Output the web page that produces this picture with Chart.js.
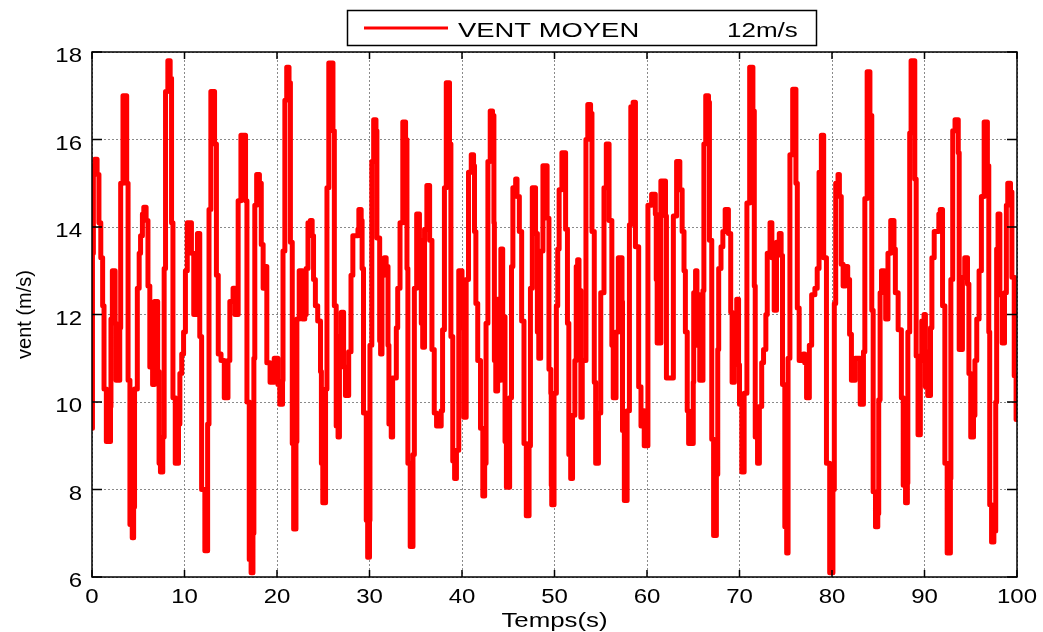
<!DOCTYPE html>
<html>
<head>
<meta charset="utf-8">
<title>Vent moyen 12m/s</title>
<script src="https://cdn.jsdelivr.net/npm/chart.js@4.4.1/dist/chart.umd.min.js"></script>
<style>
  html, body { margin: 0; padding: 0; background: #fff; }
  #wrap { width: 1043px; height: 632px; }
</style>
</head>
<body>
<div id="wrap"><canvas id="myChart" width="1043" height="632"></canvas></div>
<script>
// time (s) at which each step starts
const times = [
    0, 0.05, 0.15, 0.3, 0.55, 0.75, 0.95, 1.15, 1.3, 1.55,
    2.0, 2.05, 2.2, 2.5, 2.6, 3.0, 3.1, 3.35, 3.75, 3.9,
    4.1, 4.35, 4.5, 4.6, 4.9, 5.1, 5.25, 5.45, 5.6, 5.85,
    6.05, 6.25, 6.4, 6.55, 6.75, 7.1, 7.25, 7.4, 7.65, 7.8,
    7.95, 8.2, 8.45, 8.6, 8.75, 9.0, 9.35, 9.5, 9.7, 9.9,
    10.1, 10.3, 10.75, 11.0, 11.4, 11.65, 11.85, 12.2, 12.5, 12.65,
    12.85, 13.25, 13.45, 13.65, 13.95, 14.3, 14.7, 14.9, 15.25, 15.45,
    15.8, 16.1, 16.6, 16.75, 17.0, 17.2, 17.4, 17.5, 17.6, 17.8,
    18.1, 18.3, 18.5, 18.7, 18.9, 19.25, 19.7, 20.1, 20.3, 20.6,
    20.65, 20.85, 21.05, 21.3, 21.45, 21.65, 21.8, 22.05, 22.15, 22.4,
    22.75, 23.0, 23.15, 23.35, 23.6, 23.8, 23.95, 24.15, 24.4, 24.7,
    24.8, 24.95, 25.25, 25.4, 25.6, 26.05, 26.2, 26.4, 26.6, 26.75,
    26.95, 27.2, 27.4, 27.75, 28.0, 28.2, 28.75, 28.85, 29.1, 29.2,
    29.35, 29.65, 29.8, 30.0, 30.05, 30.25, 30.45, 30.7, 30.8, 31.1,
    31.2, 31.35, 31.6, 31.8, 32.0, 32.1, 32.35, 32.5, 32.9, 33.05,
    33.3, 33.6, 33.9, 34.05, 34.15, 34.4, 34.7, 34.85, 35.1, 35.4,
    35.6, 35.75, 35.95, 36.2, 36.5, 36.75, 37.0, 37.25, 37.75, 37.9,
    38.1, 38.3, 38.65, 38.8, 39.0, 39.2, 39.4, 39.65, 40.0, 40.2,
    40.45, 40.7, 41.0, 41.25, 41.35, 41.5, 41.7, 42.0, 42.25, 42.45,
    42.6, 42.8, 43.05, 43.3, 43.45, 43.5, 43.65, 43.85, 44.05, 44.2,
    44.4, 44.65, 44.8, 45.15, 45.35, 45.5, 45.8, 45.95, 46.2, 46.45,
    46.7, 46.95, 47.25, 47.4, 47.6, 47.95, 48.15, 48.3, 48.5, 48.75,
    49.2, 49.4, 49.6, 49.65, 49.7, 49.95, 50.2, 50.35, 50.5, 50.8,
    51.2, 51.4, 51.55, 51.75, 51.95, 52.2, 52.35, 52.5, 52.65, 52.85,
    53.0, 53.4, 53.6, 53.9, 54.05, 54.3, 54.45, 54.75, 55.0, 55.35,
    55.6, 55.9, 56.2, 56.35, 56.65, 56.9, 57.3, 57.35, 57.55, 57.85,
    58.1, 58.25, 58.5, 58.75, 59.1, 59.35, 59.55, 59.7, 60.1, 60.5,
    60.9, 61.0, 61.1, 61.5, 62.0, 62.1, 62.85, 63.2, 63.55, 63.8,
    64.0, 64.15, 64.35, 64.5, 65.0, 65.05, 65.25, 65.4, 65.5, 65.7,
    66.05, 66.15, 66.35, 66.65, 66.75, 67.0, 67.2, 67.5, 67.65, 67.75,
    68.0, 68.2, 68.45, 68.8, 69.05, 69.2, 69.45, 69.7, 69.9, 70.0,
    70.25, 70.5, 70.8, 71.1, 71.45, 71.6, 71.7, 71.95, 72.15, 72.4,
    72.6, 72.85, 73.0, 73.3, 73.5, 73.75, 74.0, 74.3, 74.5, 74.65,
    74.9, 75.1, 75.25, 75.45, 75.75, 76.1, 76.25, 76.45, 76.9, 77.05,
    77.25, 77.55, 77.8, 78.15, 78.4, 78.6, 78.85, 79.1, 79.4, 79.75,
    80.1, 80.25, 80.4, 80.65, 80.8, 81.0, 81.2, 81.45, 81.7, 81.9,
    82.1, 82.5, 83.05, 83.4, 83.55, 83.8, 84.1, 84.3, 84.45, 84.7,
    84.95, 85.05, 85.2, 85.35, 85.65, 85.8, 86.05, 86.35, 86.7, 86.85,
    87.15, 87.5, 87.7, 87.95, 88.15, 88.2, 88.4, 88.55, 88.95, 89.1,
    89.3, 89.55, 89.7, 89.95, 90.1, 90.2, 90.35, 90.65, 90.8, 91.05,
    91.55, 91.7, 91.95, 92.2, 92.45, 92.8, 92.85, 93.05, 93.3, 93.65,
    93.75, 94.1, 94.35, 94.65, 94.8, 95.0, 95.3, 95.45, 95.65, 95.9,
    96.15, 96.45, 96.8, 96.95, 97.05, 97.25, 97.5, 97.7, 97.8, 97.95,
    98.15, 98.4, 98.65, 98.85, 99.0, 99.3, 99.45, 99.7, 99.9, 100
];

// wind speed (m/s) held from each time above
const wind = [
    9.4, 13.4, 15.4, 15.55, 15.2, 14.1, 13.3, 12.2, 10.3, 9.1,
    9.9, 11.9, 13.0, 11.8, 10.5, 11.7, 15.0, 17.0, 15.0, 10.5,
    7.2, 6.9, 7.6, 10.3, 12.6, 13.4, 13.8, 14.3, 14.45, 14.15,
    12.65, 10.8, 11.8, 10.4, 12.3, 10.7, 8.6, 8.4, 9.2, 13.05,
    17.1, 17.8, 17.4, 14.1, 10.1, 8.6, 9.5, 10.65, 11.1, 11.6,
    13.0, 14.1, 13.4, 12.0, 13.85, 11.5, 8.0, 6.6, 9.5, 14.4,
    17.1, 15.9, 12.9, 11.1, 10.95, 10.1, 10.95, 12.3, 12.6, 12.0,
    14.6, 16.1, 14.6, 10.0, 6.4, 6.1, 7.0, 11.0, 14.5, 15.2,
    15.0, 13.6, 12.6, 13.1, 10.9, 10.45, 11.0, 10.4, 9.95, 10.5,
    13.45, 16.9, 17.65, 17.3, 13.65, 9.05, 7.1, 9.1, 11.9, 13.0,
    11.9, 12.0, 13.05, 14.1, 14.15, 13.8, 12.8, 12.2, 11.85, 10.7,
    8.6, 7.7, 10.3, 14.9, 17.75, 16.2, 12.2, 9.45, 9.2, 11.5,
    12.05, 10.8, 10.15, 11.15, 12.9, 13.8, 13.95, 14.4, 14.15, 13.05,
    9.75, 7.3, 6.45, 7.3, 11.3, 15.5, 16.45, 16.2, 13.75, 11.4,
    11.1, 12.9, 13.3, 13.1, 11.3, 9.5, 9.2, 10.55, 11.7, 12.6,
    14.1, 16.4, 16.0, 13.05, 8.6, 6.7, 8.8, 12.6, 14.3, 13.7,
    11.8, 11.25, 13.95, 14.95, 13.7, 11.2, 9.75, 9.45, 9.8, 11.65,
    14.9, 17.3, 15.9, 11.5, 8.65, 8.25, 8.9, 13.0, 11.7, 9.65,
    12.8, 15.25, 15.65, 15.4, 13.9, 12.25, 10.95, 9.4, 7.85, 8.6,
    11.8, 15.5, 16.65, 16.55, 14.1, 10.95, 10.25, 12.35, 10.5, 13.5,
    11.95, 9.1, 8.05, 10.1, 13.1, 14.9, 15.1, 14.7, 13.9, 11.85,
    9.05, 7.4, 9.0, 12.6, 14.9, 13.85, 11.6, 11.0, 13.45, 15.4,
    14.2, 10.75, 10.2, 8.1, 7.65, 10.2, 12.2, 13.5, 14.85, 15.7,
    13.95, 11.8, 8.8, 8.25, 9.7, 10.95, 13.1, 13.25, 12.55, 9.65,
    10.95, 16.0, 16.8, 16.6, 13.9, 10.45, 8.6, 9.75, 12.5, 14.9,
    15.9, 14.15, 11.3, 10.1, 11.6, 13.3, 12.3, 9.35, 7.75, 9.8,
    14.05, 16.75, 16.85, 13.55, 10.35, 9.45, 9.8, 9.0, 14.5, 14.75,
    14.3, 12.8, 11.35, 15.05, 14.25, 10.55, 14.25, 15.5, 14.85, 13.9,
    13.0, 11.6, 9.8, 9.05, 10.45, 12.5, 13.0, 11.3, 12.45, 10.5,
    12.55, 15.9, 17.0, 16.85, 13.7, 9.15, 6.95, 8.35, 11.2, 13.05,
    13.55, 13.9, 14.4, 13.85, 12.05, 10.45, 11.9, 12.35, 10.85, 9.95,
    8.4, 10.2, 14.55, 17.65, 16.65, 12.65, 9.2, 8.6, 9.9, 10.9,
    11.2, 12.0, 13.4, 14.1, 13.3, 12.1, 13.65, 13.85, 13.35, 10.4,
    7.15, 6.55, 11.0, 15.65, 17.15, 15.0, 12.15, 10.95, 11.1, 10.9,
    10.1, 11.3, 12.45, 12.6, 13.05, 15.25, 16.1, 13.3, 8.6, 6.1,
    8.0, 12.25, 15.0, 15.2, 14.7, 13.15, 12.65, 13.1, 12.8, 11.55,
    10.5, 11.0, 9.95, 11.15, 14.65, 17.55, 16.55, 12.1, 7.95, 7.15,
    7.45, 10.05, 12.5, 13.0, 12.55, 11.9, 13.4, 14.15, 13.5, 12.5,
    11.65, 10.1, 8.1, 7.7, 8.15, 11.6, 16.15, 17.8, 15.1, 11.05,
    9.25, 10.95, 11.85, 12.0, 10.35, 11.15, 10.15, 11.7, 13.3, 13.9,
    14.3, 14.4, 12.2, 8.6, 6.55, 8.25, 12.8, 16.2, 16.45, 15.7,
    11.2, 12.85, 13.3, 12.7, 10.65, 9.2, 9.7, 10.95, 11.9, 13.0,
    14.7, 16.4, 15.4, 11.6, 7.65, 6.8, 7.05, 10.0, 13.5, 14.3,
    12.45, 11.35, 12.5, 14.5, 15.0, 14.8, 12.85, 10.6, 9.6, 9.6
];

const xTicks = [0, 10, 20, 30, 40, 50, 60, 70, 80, 90, 100];
const yTicks = [6, 8, 10, 12, 14, 16, 18];
const seriesLabel = 'VENT MOYEN';
const meanLabel = '12m/s';
const xTitle = 'Temps(s)';
const yTitle = 'vent (m/s)';

const FAMILY = '"Liberation Sans", Arial, Helvetica, sans-serif';

// the reference text is drawn a bit wider than the plain font
function wideText(ctx, str, x, y, align, sx) {
    ctx.save();
    ctx.translate(x, y);
    ctx.scale(sx, 1);
    ctx.textAlign = align;
    ctx.fillText(str, 0, 0);
    ctx.restore();
}

// matlab-like frame: box, inward ticks on the four sides, labels and legend box
const matlabFrame = {
    id: 'matlabFrame',
    afterDraw(chart) {
        const ctx = chart.ctx;
        const a = chart.chartArea;
        const sx = chart.scales.x;
        const sy = chart.scales.y;
        ctx.save();

        ctx.strokeStyle = '#000';
        ctx.lineWidth = 1.5;
        ctx.strokeRect(a.left, a.top, a.right - a.left, a.bottom - a.top);

        ctx.beginPath();
        xTicks.forEach(function (v) {
            const px = sx.getPixelForValue(v);
            ctx.moveTo(px, a.bottom); ctx.lineTo(px, a.bottom - 7);
            ctx.moveTo(px, a.top); ctx.lineTo(px, a.top + 7);
        });
        yTicks.forEach(function (v) {
            const py = sy.getPixelForValue(v);
            ctx.moveTo(a.left, py); ctx.lineTo(a.left + 10, py);
            ctx.moveTo(a.right, py); ctx.lineTo(a.right - 10, py);
        });
        ctx.stroke();

        ctx.fillStyle = '#000';
        ctx.textBaseline = 'alphabetic';
        ctx.font = '20px ' + FAMILY;
        xTicks.forEach(function (v) {
            wideText(ctx, String(v), sx.getPixelForValue(v), a.bottom + 26, 'center', 1.2);
        });
        yTicks.forEach(function (v) {
            wideText(ctx, String(v), a.left - 10, sy.getPixelForValue(v) + 10, 'right', 1.2);
        });

        ctx.font = '21px ' + FAMILY;
        wideText(ctx, xTitle, (a.left + a.right) / 2, a.bottom + 50, 'center', 1.23);

        ctx.font = '20px ' + FAMILY;
        ctx.save();
        ctx.translate(a.left - 67, (a.top + a.bottom) / 2);
        ctx.rotate(-Math.PI / 2);
        ctx.textAlign = 'center';
        ctx.textBaseline = 'middle';
        ctx.fillText(yTitle, 0, 0);
        ctx.restore();

        // legend
        ctx.lineWidth = 1.5;
        ctx.strokeStyle = '#000';
        ctx.strokeRect(347.5, 10.5, 469, 35);
        ctx.strokeStyle = '#ff0000';
        ctx.lineWidth = 3;
        ctx.beginPath();
        ctx.moveTo(364, 28);
        ctx.lineTo(448, 28);
        ctx.stroke();
        ctx.fillStyle = '#000';
        ctx.font = '20px ' + FAMILY;
        ctx.textBaseline = 'alphabetic';
        wideText(ctx, seriesLabel, 458, 37, 'left', 1.37);
        wideText(ctx, meanLabel, 727, 37, 'left', 1.3);

        ctx.restore();
    }
};

const data = {
    datasets: [{
        label: seriesLabel + ' ' + meanLabel,
        data: times.map(function (t, i) { return { x: t, y: wind[i] }; }),
        borderColor: '#ff0000',
        backgroundColor: '#ff0000',
        borderWidth: 5,
        borderJoinStyle: 'round',
        borderCapStyle: 'round',
        pointRadius: 0,
        stepped: true,
        fill: false,
        tension: 0
    }]
};

const config = {
    type: 'line',
    data: data,
    options: {
        responsive: false,
        animation: false,
        devicePixelRatio: 1,
        layout: {
            padding: { top: 52, right: 26, bottom: 0, left: 0 }
        },
        plugins: {
            legend: { display: false },
            tooltip: { enabled: false }
        },
        scales: {
            x: {
                type: 'linear',
                min: 0,
                max: 100,
                afterBuildTicks: function (s) { s.ticks = xTicks.map(function (v) { return { value: v }; }); },
                afterFit: function (s) { s.height = 55; },
                ticks: { display: false },
                grid: { color: '#8a8a8a', lineWidth: 1, drawTicks: false },
                border: { display: false, dash: [2, 2] }
            },
            y: {
                type: 'linear',
                min: 6,
                max: 18,
                afterBuildTicks: function (s) { s.ticks = yTicks.map(function (v) { return { value: v }; }); },
                afterFit: function (s) { s.width = 92; },
                ticks: { display: false },
                grid: { color: '#8a8a8a', lineWidth: 1, drawTicks: false },
                border: { display: false, dash: [2, 2] }
            }
        }
    },
    plugins: [matlabFrame]
};

new Chart(document.getElementById('myChart'), config);
</script>
</body>
</html>
